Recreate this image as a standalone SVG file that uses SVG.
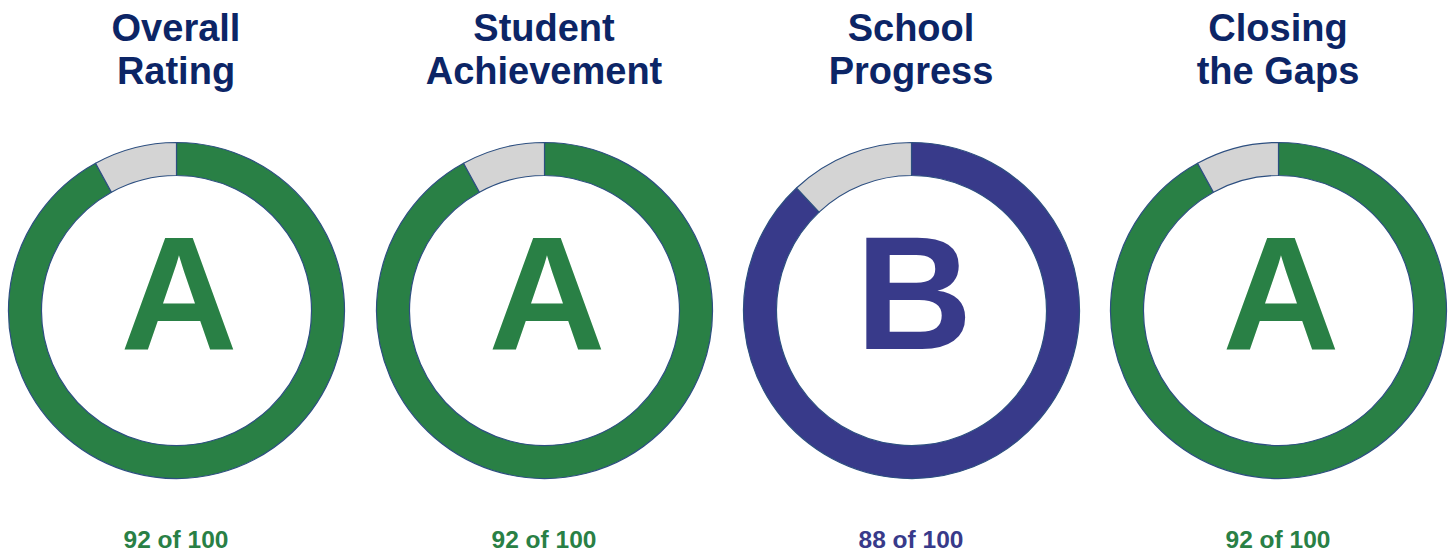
<svg xmlns="http://www.w3.org/2000/svg" width="1456" height="554" viewBox="0 0 1456 554">
<style>
.title{font-family:"Liberation Sans",Arial,sans-serif;font-weight:bold;font-size:38px;fill:#0c2566;text-anchor:middle}
.grade{font-family:"Liberation Sans",Arial,sans-serif;font-weight:bold;font-size:162px;text-anchor:middle}
.score{font-family:"Liberation Sans",Arial,sans-serif;font-weight:bold;font-size:24.5px;text-anchor:middle}
.seg{stroke:#2d4f80;stroke-width:1.2;stroke-linejoin:round}
.gray{fill:#d4d4d4}
.green{fill:#298045}
.navy{fill:#383a8a}
</style>
<rect width="1456" height="554" fill="#ffffff"/>
<defs>
<path id="g92" d="M0,-168 A168,168 0 1 1 -80.94,-147.22 L-65.04,-118.30 A135,135 0 1 0 0,-135 Z"/>
<path id="r92" d="M-80.94,-147.22 A168,168 0 0 1 0,-168 L0,-135 A135,135 0 0 0 -65.04,-118.30 Z"/>
<path id="g88" d="M0,-168 A168,168 0 1 1 -115.0,-122.47 L-92.41,-98.42 A135,135 0 1 0 0,-135 Z"/>
<path id="r88" d="M-115.0,-122.47 A168,168 0 0 1 0,-168 L0,-135 A135,135 0 0 0 -92.41,-98.42 Z"/>
</defs>
<g id="overall-rating">
<text class="title" x="176" y="41">Overall</text>
<text class="title" x="176" y="84">Rating</text>
<g transform="translate(176.5,310.5)">
<use href="#g92" class="seg green"/>
<use href="#r92" class="seg gray"/>
</g>
<text class="grade green" x="179" y="349">A</text>
<text class="score green" x="176" y="548">92 of 100</text>
</g>
<g id="student-achievement">
<text class="title" x="544" y="41">Student</text>
<text class="title" x="544" y="84">Achievement</text>
<g transform="translate(544.5,310.5)">
<use href="#g92" class="seg green"/>
<use href="#r92" class="seg gray"/>
</g>
<text class="grade green" x="547" y="349">A</text>
<text class="score green" x="544" y="548">92 of 100</text>
</g>
<g id="school-progress">
<text class="title" x="911" y="41">School</text>
<text class="title" x="911" y="84">Progress</text>
<g transform="translate(911.5,310.5)">
<use href="#g88" class="seg navy"/>
<use href="#r88" class="seg gray"/>
</g>
<text class="grade navy" x="914" y="349">B</text>
<text class="score navy" x="911" y="548">88 of 100</text>
</g>
<g id="closing-the-gaps">
<text class="title" x="1278" y="41">Closing</text>
<text class="title" x="1278" y="84">the Gaps</text>
<g transform="translate(1278.5,310.5)">
<use href="#g92" class="seg green"/>
<use href="#r92" class="seg gray"/>
</g>
<text class="grade green" x="1281" y="349">A</text>
<text class="score green" x="1278" y="548">92 of 100</text>
</g>
<g id="connectors"></g>
</svg>
